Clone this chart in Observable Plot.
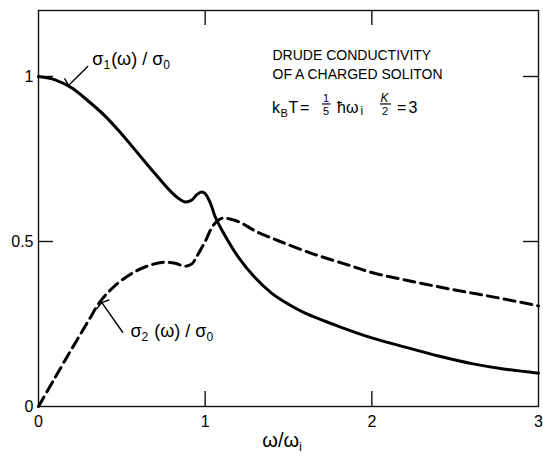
<!DOCTYPE html>
<html><head><meta charset="utf-8">
<script src="https://cdn.jsdelivr.net/npm/d3@7"></script>
<script src="https://cdn.jsdelivr.net/npm/@observablehq/plot@0.6"></script>
<style>body{margin:0;background:#fff} svg{display:block}</style>
</head><body><div id="chart"></div>
<script>
// sigma1(omega)/sigma0 — solid curve
const omega1 = [0, 0.1, 0.2, 0.3, 0.4, 0.5, 0.6, 0.7, 0.8, 0.85, 0.88, 0.92, 0.95, 0.98, 1.0, 1.03, 1.06, 1.1, 1.2, 1.3, 1.4, 1.5, 1.6, 1.8, 2.0, 2.2, 2.4, 2.6, 2.8, 3.0];
const sigma1 = [1.0, 0.99, 0.965, 0.925, 0.88, 0.825, 0.765, 0.705, 0.648, 0.627, 0.62, 0.626, 0.642, 0.65, 0.645, 0.618, 0.575, 0.535, 0.452, 0.39, 0.343, 0.31, 0.283, 0.243, 0.208, 0.18, 0.153, 0.13, 0.113, 0.101];
// sigma2(omega)/sigma0 — dashed curve
const omega2 = [0, 0.1, 0.2, 0.3, 0.37, 0.45, 0.55, 0.65, 0.75, 0.82, 0.88, 0.92, 0.95, 1.0, 1.05, 1.1, 1.2, 1.3, 1.45, 1.65, 1.85, 2.0, 2.25, 2.5, 2.75, 3.0];
const sigma2 = [0, 0.088, 0.175, 0.26, 0.318, 0.362, 0.4, 0.425, 0.437, 0.434, 0.425, 0.432, 0.455, 0.5, 0.55, 0.57, 0.56, 0.532, 0.5, 0.462, 0.43, 0.406, 0.378, 0.353, 0.33, 0.305];

const xTicks = [0, 1, 2, 3];
const xTickLabels = ["0", "1", "2", "3"];
const yTicks = [0, 0.5, 1];
const yTickLabels = ["0", "0.5", "1"];
const innerXTicks = [1, 2];
const innerYTicks = [0.5, 1];
const titleLines = ["DRUDE CONDUCTIVITY", "OF A CHARGED SOLITON"];
const titleX = [1.404, 1.404];
const titleY = [1.051, 0.993];
// curve labels: [symbol, subscript, middle, subscript]
const curveLabelParts = [["σ", "1", "(ω) / σ", "0"], ["σ", "2", " (ω) / σ", "0"]];
const labelX = [0.326, 0.555];
const labelY = [1.033, 0.209];
const arrowFromX = [0.295, 0.505];
const arrowFromY = [1.03, 0.225];
const arrowToX = [0.18, 0.38];
const arrowToY = [0.973, 0.315];
const paramPos = {x: 1.404, y: 0.888};
const xLabelParts = ["ω/ω", "i"];
const xLabelPos = {x: 1.465, y: 0};

const FONT = "'Liberation Sans', Arial, Helvetica, sans-serif";
const W = 543, H = 454, ML = 38, MR = 5, MT = 10, MB = 48, TICK = 15;
const frameW = W - ML - MR, frameH = H - MT - MB;

const plot = Plot.plot({
  width: W,
  height: H,
  marginLeft: ML,
  marginRight: MR,
  marginTop: MT,
  marginBottom: MB,
  style: {fontFamily: FONT, fontSize: "15px", color: "black", background: "white", overflow: "visible"},
  x: {domain: [0, 3]},
  y: {domain: [0, 1.2]},
  marks: [
    Plot.frame({stroke: "#111", strokeWidth: 1.4}),
    // inward ticks on all four sides
    Plot.ruleX(innerXTicks, {x: d => d, insetTop: frameH - TICK, stroke: "#111", strokeWidth: 1.4}),
    Plot.ruleX(innerXTicks, {x: d => d, insetBottom: frameH - TICK, stroke: "#111", strokeWidth: 1.4}),
    Plot.ruleY(innerYTicks, {y: d => d, insetRight: frameW - TICK, stroke: "#111", strokeWidth: 1.4}),
    Plot.ruleY(innerYTicks, {y: d => d, insetLeft: frameW - TICK, stroke: "#111", strokeWidth: 1.4}),
    // tick labels
    Plot.axisX({anchor: "bottom", ticks: xTicks, tickSize: 0, tickPadding: 9, tickFormat: (d, i) => xTickLabels[i], label: null, fontSize: 16}),
    Plot.axisY({anchor: "left", ticks: yTicks, tickSize: 0, tickPadding: 5, tickFormat: (d, i) => yTickLabels[i], label: null, fontSize: 16}),
    Plot.line(omega1, {x: omega1, y: sigma1, curve: "catmull-rom", stroke: "black", strokeWidth: 3}),
    Plot.line(omega2, {x: omega2, y: sigma2, curve: "catmull-rom", stroke: "black", strokeWidth: 3, strokeDasharray: "11,6"}),
    Plot.arrow(curveLabelParts, {x1: arrowFromX, y1: arrowFromY, x2: arrowToX, y2: arrowToY, stroke: "black", strokeWidth: 1.4, headLength: 8, headAngle: 150}),
    Plot.text(titleLines, {x: titleX, y: titleY, text: d => d, textAnchor: "start", lineAnchor: "bottom", fontSize: 14, fill: "black"})
  ]
});

const xs = plot.scale("x"), ys = plot.scale("y");
const g = d3.select(plot).append("g")
  .attr("font-family", FONT).attr("fill", "black").attr("text-anchor", "start");

// curve labels with subscripts
curveLabelParts.forEach((p, i) => {
  const t = g.append("text").attr("x", xs.apply(labelX[i])).attr("y", ys.apply(labelY[i])).attr("font-size", 18);
  t.append("tspan").text(p[0]);
  t.append("tspan").attr("font-size", 12).attr("dy", 4).text(p[1]);
  t.append("tspan").attr("dy", -4).attr("dx", 1).text(p[2]);
  t.append("tspan").attr("font-size", 12).attr("dy", 4).text(p[3]);
});

// x-axis label ω/ω_i
{
  const t = g.append("text").attr("x", xs.apply(xLabelPos.x)).attr("y", ys.apply(xLabelPos.y)).attr("dy", 41)
    .attr("font-size", 20).attr("text-anchor", "middle");
  t.append("tspan").text(xLabelParts[0]);
  t.append("tspan").attr("font-size", 13).attr("dy", 4).text(xLabelParts[1]);
}

// parameter line: k_B T = (1/5) ħ ω_i   K/2 = 3
{
  const px = xs.apply(paramPos.x), py = ys.apply(paramPos.y);
  const t = g.append("text").attr("x", px).attr("y", py).attr("font-size", 16);
  t.append("tspan").attr("x", px).text("k");
  t.append("tspan").attr("x", px + 8.5).attr("dy", 4).attr("font-size", 11).text("B");
  t.append("tspan").attr("x", px + 16.5).attr("dy", -4).text("T");
  t.append("tspan").attr("x", px + 28).text("=");
  t.append("tspan").attr("x", px + 51).attr("dy", -11).attr("font-size", 11).text("1");
  t.append("tspan").attr("x", px + 51).attr("dy", 13).attr("font-size", 11).text("5");
  t.append("tspan").attr("x", px + 65).attr("dy", -2).text("ħω");
  t.append("tspan").attr("x", px + 88.5).attr("dy", 2).attr("font-size", 12).text("i");
  t.append("tspan").attr("x", px + 108.5).attr("dy", -13).attr("font-size", 12).attr("font-style", "italic").text("K");
  t.append("tspan").attr("x", px + 110).attr("dy", 13).attr("font-size", 11).text("2");
  t.append("tspan").attr("x", px + 125).attr("dy", -2).text("=");
  t.append("tspan").attr("x", px + 136.5).text("3");
  // fraction bars
  const bars = [[50, 58.5], [108, 119]];
  bars.forEach(([a, b]) => g.append("line")
    .attr("x1", px + a).attr("x2", px + b).attr("y1", py - 9).attr("y2", py - 9)
    .attr("stroke", "black").attr("stroke-width", 1.2));
}

document.getElementById("chart").appendChild(plot);
</script>
</body></html>
